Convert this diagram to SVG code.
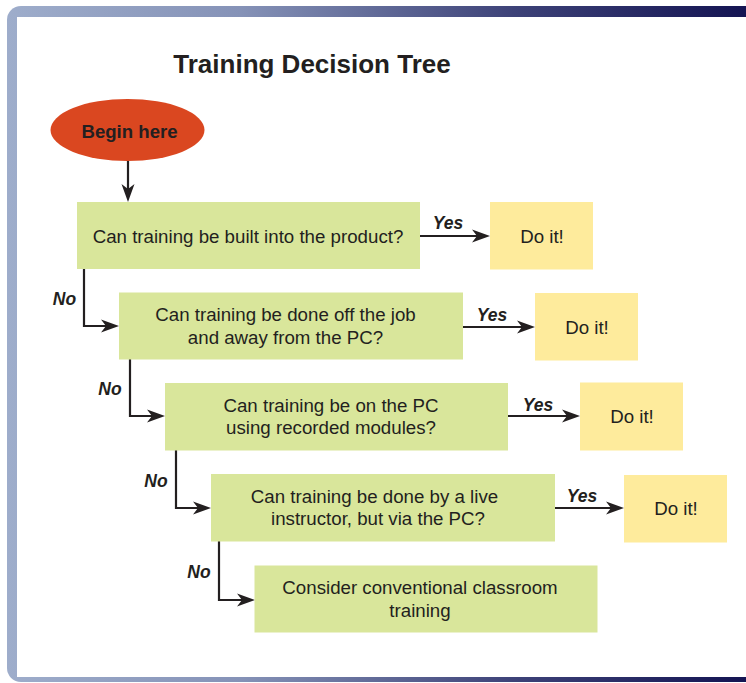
<svg xmlns="http://www.w3.org/2000/svg" width="746" height="683" viewBox="0 0 746 683">
  <defs>
    <linearGradient id="frameGrad" x1="0" y1="0" x2="1" y2="0">
      <stop offset="0" stop-color="#9eadcb"/>
      <stop offset="0.3" stop-color="#8592b7"/>
      <stop offset="0.65" stop-color="#3d4278"/>
      <stop offset="1" stop-color="#0d0c4c"/>
    </linearGradient>
    <marker id="arrow" markerUnits="userSpaceOnUse" viewBox="-12 -8 22 16" markerWidth="22" markerHeight="16" refX="0" refY="0" orient="auto">
      <path d="M8,0 L-10,-6.5 L-5,0 L-10,6.5 Z" fill="#231f20"/>
    </marker>
    <style>
      .q { fill: #d9e69b; }
      .ok { fill: #feeb9c; }
      .t { font-family: "Liberation Sans", Arial, Helvetica, sans-serif; font-size: 18.7px; fill: #231f20; text-anchor: middle; }
      .lbl { font-family: "Liberation Sans", Arial, Helvetica, sans-serif; font-size: 17.5px; font-weight: bold; font-style: italic; fill: #231f20; text-anchor: middle; }
      .edge { fill: none; stroke: #231f20; stroke-width: 2.2; marker-end: url(#arrow); }
    </style>
  </defs>

  <!-- page frame -->
  <rect x="7" y="6" width="780" height="676" rx="14" ry="14" fill="url(#frameGrad)"/>
  <rect x="17" y="17" width="760" height="660" fill="#ffffff"/>

  <text x="312" y="72.5" font-family="Liberation Sans, Arial, Helvetica, sans-serif" font-size="26" font-weight="bold" fill="#231f20" text-anchor="middle">Training Decision Tree</text>

  <!-- connectors -->
  <g id="connectors">
    <path class="edge" d="M128,161 V194"/>
    <path class="edge" d="M420,236 H482"/>
    <path class="edge" d="M463,327 H527"/>
    <path class="edge" d="M508,416 H572"/>
    <path class="edge" d="M554,508 H616"/>
    <path class="edge" d="M84,269 V326 H111"/>
    <path class="edge" d="M130,359 V416 H157"/>
    <path class="edge" d="M176,450 V508 H203"/>
    <path class="edge" d="M219,541 V600 H247"/>
    <text class="lbl" x="448" y="229">Yes</text>
    <text class="lbl" x="492" y="321">Yes</text>
    <text class="lbl" x="538" y="411">Yes</text>
    <text class="lbl" x="582" y="502">Yes</text>
    <text class="lbl" x="64.5" y="305">No</text>
    <text class="lbl" x="110" y="395">No</text>
    <text class="lbl" x="156" y="487">No</text>
    <text class="lbl" x="199" y="578">No</text>
  </g>

  <!-- start -->
  <g id="begin">
    <ellipse cx="127.5" cy="130" rx="77" ry="31" fill="#da4720"/>
    <text x="129.5" y="138" font-family="Liberation Sans, Arial, Helvetica, sans-serif" font-size="18.6" font-weight="bold" fill="#231f20" text-anchor="middle">Begin here</text>
  </g>

  <!-- questions -->
  <g id="q1">
    <rect class="q" x="77" y="202" width="343" height="67"/>
    <text class="t" x="248" y="242.5">Can training be built into the product?</text>
  </g>
  <g id="q2">
    <rect class="q" x="119" y="292.5" width="344" height="67"/>
    <text class="t" x="285.5" y="321">Can training be done off the job</text>
    <text class="t" x="285.5" y="343.5">and away from the PC?</text>
  </g>
  <g id="q3">
    <rect class="q" x="165" y="383" width="343" height="67.5"/>
    <text class="t" x="331" y="411.5">Can training be on the PC</text>
    <text class="t" x="331" y="433.5">using recorded modules?</text>
  </g>
  <g id="q4">
    <rect class="q" x="211" y="474" width="344" height="67.5"/>
    <text class="t" x="374.5" y="503">Can training be done by a live</text>
    <text class="t" x="378" y="525">instructor, but via the PC?</text>
  </g>
  <g id="classroom">
    <rect class="q" x="254.5" y="565.5" width="343" height="67"/>
    <text class="t" x="420" y="594">Consider conventional classroom</text>
    <text class="t" x="420" y="616.5">training</text>
  </g>

  <!-- outcomes -->
  <g id="yes1">
    <rect class="ok" x="490" y="202" width="103" height="67.5"/>
    <text class="t" x="542" y="242.5">Do it!</text>
  </g>
  <g id="yes2">
    <rect class="ok" x="535" y="293" width="103" height="67.5"/>
    <text class="t" x="587" y="333.5">Do it!</text>
  </g>
  <g id="yes3">
    <rect class="ok" x="580" y="382.5" width="103" height="68"/>
    <text class="t" x="632" y="423">Do it!</text>
  </g>
  <g id="yes4">
    <rect class="ok" x="624" y="475" width="103" height="67.5"/>
    <text class="t" x="676" y="515">Do it!</text>
  </g>
</svg>
